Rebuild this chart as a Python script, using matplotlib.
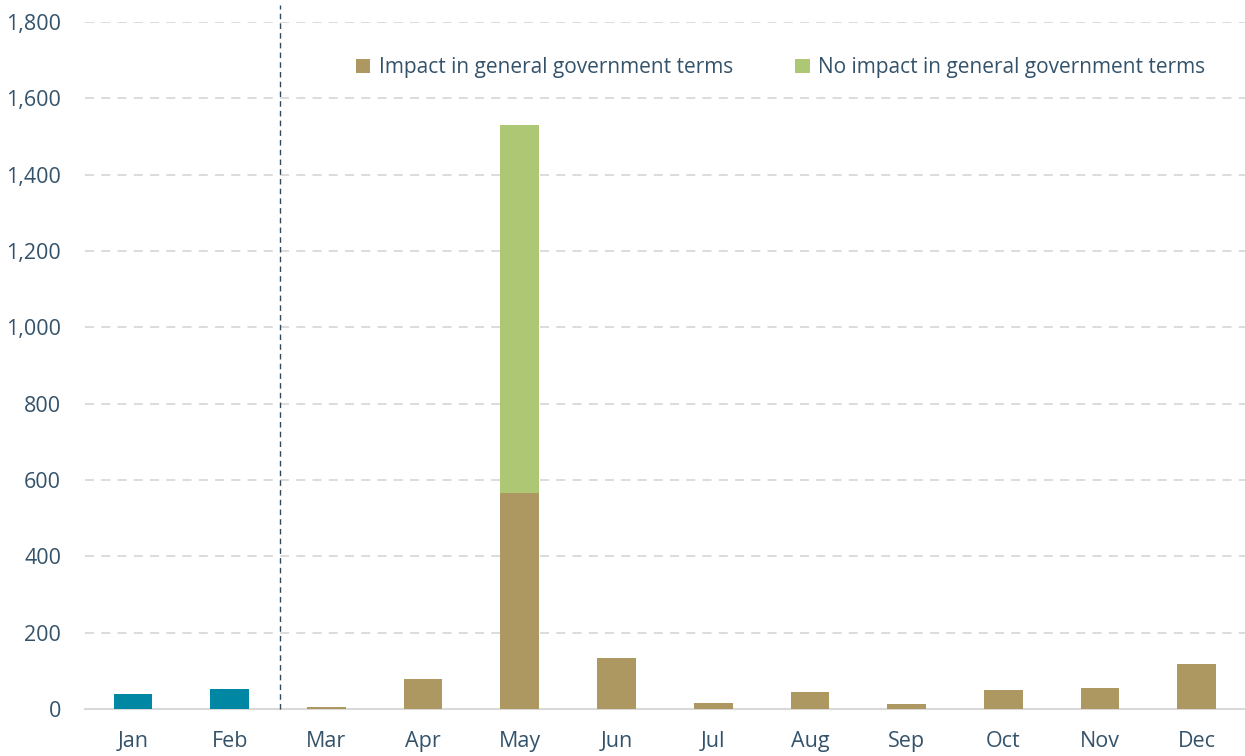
import matplotlib
matplotlib.use('Agg')
import matplotlib.pyplot as plt
import numpy as np

# data
months = ['Jan', 'Feb', 'Mar', 'Apr', 'May', 'Jun', 'Jul', 'Aug', 'Sep', 'Oct', 'Nov', 'Dec']
outturn = [39, 52, 0, 0, 0, 0, 0, 0, 0, 0, 0, 0]
impact_gg = [0, 0, 5, 79, 566, 134, 16, 46, 13, 49, 56, 118]
no_impact_gg = [0, 0, 0, 0, 963, 0, 0, 0, 0, 0, 0, 0]
yticks = [0, 200, 400, 600, 800, 1000, 1200, 1400, 1600, 1800]

text_col = '#34536b'
plt.rcParams['font.family'] = ['Open Sans', 'DejaVu Sans']

fig = plt.figure(figsize=(12.45, 7.56), dpi=100)
ax = fig.add_axes([0.068, 0.062, 0.932, 0.909])

x = np.arange(len(months))
w = 0.4
ax.bar(x[:2], outturn[:2], w, color='#0087a3', zorder=3)
ax.bar(x[2:], impact_gg[2:], w, color='#ae9862', zorder=3,
       label='Impact in general government terms')
ax.bar(x[2:], no_impact_gg[2:], w, bottom=impact_gg[2:], color='#adc775', zorder=3,
       label='No impact in general government terms')

ax.set_xlim(-0.5, 11.5)
ax.set_ylim(0, 1800)
ax.set_yticks(yticks)
ax.set_yticklabels([f'{v:,}' for v in yticks])
ax.set_xticks(x)
ax.set_xticklabels(months)
ax.tick_params(length=0, labelsize=15.5, colors=text_col)
ax.tick_params(axis='x', pad=16)
ax.tick_params(axis='y', pad=17)

ax.grid(axis='y', color='#d9d9d9', linestyle=(0, (5, 4)), linewidth=1.3, zorder=0)
for s in ['top', 'right', 'left']:
    ax.spines[s].set_visible(False)
ax.spines['bottom'].set_color('#d9d9d9')
ax.spines['bottom'].set_linewidth(1.5)

# separator between outturn and forecast months
ax.axvline(1.52, ymin=0, ymax=1.025, color='#2e4a62', linestyle=(0, (4, 3)),
           linewidth=1, clip_on=False, zorder=4)

ax.legend(loc='upper right', bbox_to_anchor=(0.982, 0.976), ncol=2, frameon=False,
          fontsize=15, labelcolor=text_col, handlelength=0.7, handleheight=0.7,
          handletextpad=0.4, columnspacing=3.0)

fig.savefig('out.png', dpi=100)
